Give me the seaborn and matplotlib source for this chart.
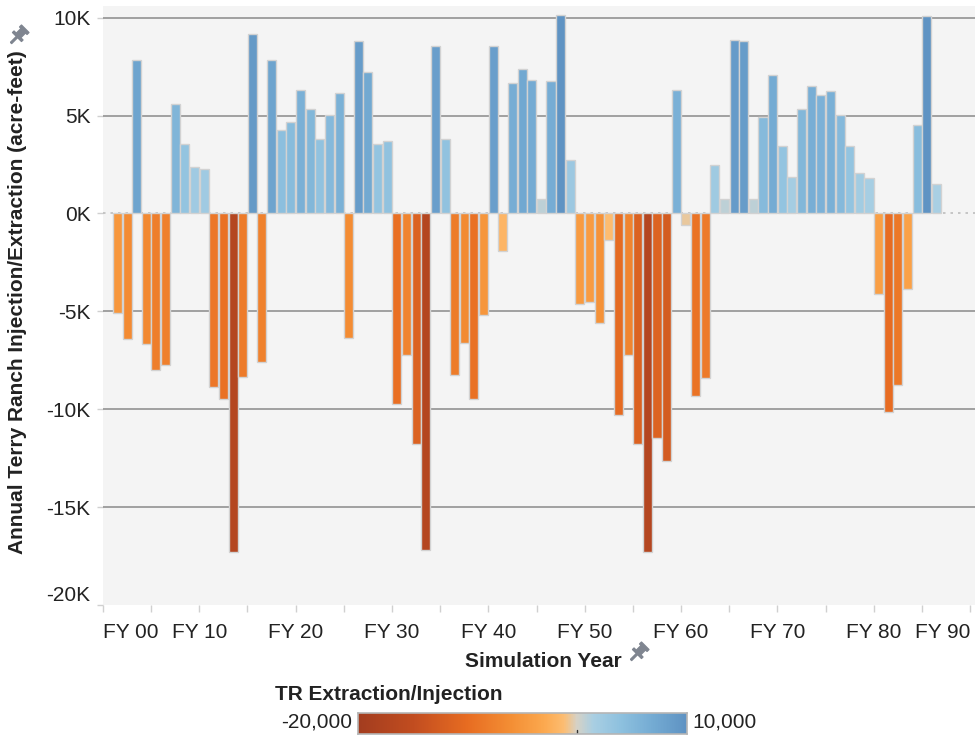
import numpy as np
import pandas as pd
import seaborn as sns
import matplotlib.pyplot as plt
from matplotlib.colors import LinearSegmentedColormap, Normalize
from matplotlib.path import Path
from matplotlib.transforms import Affine2D
from matplotlib.lines import Line2D

# simulation years and annual injection(+)/extraction(-) in acre-feet
years = list(range(1, 87))
values = [-5100, -6430, 7820, -6670, -7990, -7760, 5580, 3540, 2380, 2290,
          -8850, -9490, -17300, -8330, 9150, -7580, 7820, 4250, 4680, 6330,
          5360, 3780, 5020, 6160, -6350, 8810, 7240, 3540, 3690, -9750,
          -7250, -11790, -17200, 8550, 3780, -8260, -6590, -9490, -5190, 8550,
          -1900, 6670, 7400, 6840, 750, 6770, 10140, 2720, -4630, -4540,
          -5610, -1330, -10310, -7250, -11790, -17270, -11450, -12640, 6330, -600,
          -9320, -8420, 2470, 750, 8880, 8810, 750, 4930, 7070, 3450,
          1870, 5340, 6500, 6070, 6260, 5020, 3450, 2060, 1790, -4120,
          -10150, -8750, -3880, 4520, 10070, 1500]

decade_labels = ['FY 00', 'FY 10', 'FY 20', 'FY 30', 'FY 40',
                 'FY 50', 'FY 60', 'FY 70', 'FY 80', 'FY 90']
y_ticks = [10000, 5000, 0, -5000, -10000, -15000, -20000]
y_tick_labels = ['10K', '5K', '0K', '-5K', '-10K', '-15K', '-20K']

# diverging orange-blue colour scale (-20,000 .. 10,000)
vmin, vmax = -20000, 10000
color_stops = [(-20000, '#a33d1f'), (-15000, '#c24d20'), (-10000, '#e86d22'),
               (-6000, '#f48f35'), (-3000, '#fca94f'), (-1200, '#fdbd72'),
               (0, '#d6d2c6'), (1500, '#a9cfe3'), (4000, '#8ec1df'),
               (7000, '#74abd3'), (10000, '#5f93c3')]
cmap = LinearSegmentedColormap.from_list(
    'tr', [((v - vmin) / (vmax - vmin), c) for v, c in color_stops])
norm = Normalize(vmin, vmax)

sns.set_theme(style='white')
plt.rcParams['font.family'] = ['Liberation Sans', 'DejaVu Sans']
txt = '#222222'

fig = plt.figure(figsize=(9.75, 7.39), dpi=100)
ax = fig.add_axes([0.1056, 0.1813, 0.8944, 0.8106])
ax.set_facecolor('#f4f4f4')

df = pd.DataFrame({'year': years, 'value': values})
pal = {y: cmap(norm(v)) for y, v in zip(years, values)}
sns.barplot(data=df, x='year', y='value', hue='year', palette=pal,
            native_scale=True, dodge=False, legend=False, width=0.94,
            saturation=1, edgecolor='#d2d2d2', linewidth=1.0, ax=ax, zorder=3)

# gridlines
for g in [10000, 5000, -5000, -10000, -15000]:
    ax.axhline(g, color='#9a9a9a', lw=1.3, zorder=1)
ax.axhline(0, color='#bdbdbd', lw=1.2, ls=(0, (1.5, 3)), zorder=1)

ax.set_ylim(-20000, 10600)
ax.set_xlim(-0.5, 90.0)

# x axis: labels every 10 years, ticks every 5
ax.set_xticks([10 * i - 0.5 for i in range(len(decade_labels))])
ax.set_xticklabels(decade_labels)
ax.set_xticks([5 * i - 0.5 for i in range(19)], minor=True)
ax.tick_params(axis='x', which='both', length=5, color='#d0d0d0', width=1,
               pad=8, labelsize=15, labelcolor=txt, bottom=True)
xl = ax.get_xticklabels()
xl[0].set_ha('left')
xl[-1].set_ha('right')

ax.set_yticks(y_ticks)
ax.set_yticklabels(y_tick_labels)
ax.tick_params(axis='y', length=4, color='#d0d0d0', width=1, pad=5,
               labelsize=15, labelcolor=txt, left=True)
ax.get_yticklabels()[-1].set_va('bottom')

for s in ax.spines.values():
    s.set_visible(False)

ax.set_xlabel('Simulation Year', fontsize=15, fontweight='bold', color=txt)
ax.xaxis.set_label_coords(0.505, -0.078)
ax.set_ylabel('Annual Terry Ranch Injection/Extraction (acre-feet)',
              fontsize=15, fontweight='bold', color=txt)
ax.yaxis.set_label_coords(-0.087, 0.505)

# small grey pin icons next to the axis titles
pin = Path([(-0.08, -1.0), (0.08, -1.0), (0.08, -0.2), (0.6, -0.2), (0.6, 0.0),
            (0.3, 0.0), (0.3, 0.65), (0.5, 0.65), (0.5, 0.9), (-0.5, 0.9),
            (-0.5, 0.65), (-0.3, 0.65), (-0.3, 0.0), (-0.6, 0.0), (-0.6, -0.2),
            (-0.08, -0.2), (-0.08, -1.0)])
pin = pin.transformed(Affine2D().rotate_deg(-45))
for px, py in [(18, 35), (638, 652)]:
    fig.add_artist(Line2D([px / 975], [1 - py / 739], marker=pin,
                          markersize=15, color='#7f8590', lw=0,
                          transform=fig.transFigure))

# colour legend
cax = fig.add_axes([0.3672, 0.0068, 0.3374, 0.0284])
grad = np.linspace(vmin, vmax, 400).reshape(1, -1)
cax.imshow(grad, aspect='auto', cmap=cmap, norm=norm,
           extent=[vmin, vmax, 0, 1])
cax.plot([0, 0], [0, 0.18], color='#333333', lw=1)
cax.set_xlim(vmin, vmax)
cax.set_ylim(0, 1)
cax.set_xticks([])
cax.set_yticks([])
for s in cax.spines.values():
    s.set_color('#b5b5b5')
    s.set_linewidth(1.2)

fig.text(275 / 975, 1 - 695 / 739, 'TR Extraction/Injection', fontsize=15,
         fontweight='bold', color=txt, ha='left', va='center')
fig.text(352 / 975, 1 - 722 / 739, f'{vmin:,}', fontsize=15, color=txt,
         ha='right', va='center')
fig.text(692 / 975, 1 - 722 / 739, f'{vmax:,}', fontsize=15, color=txt,
         ha='left', va='center')

fig.savefig('out.png', dpi=100)
